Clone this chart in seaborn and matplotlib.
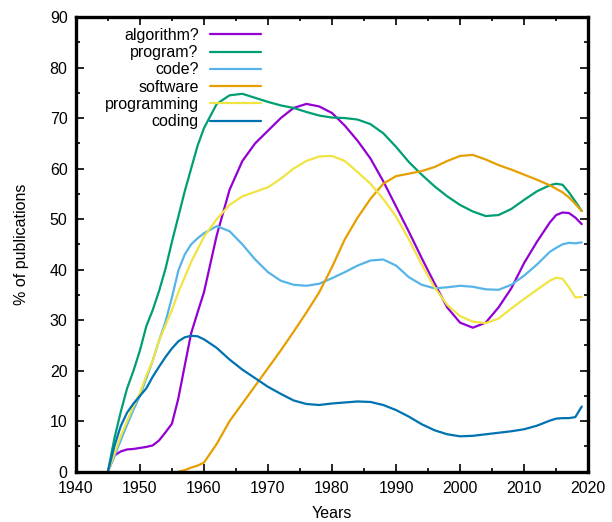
import numpy as np
import pandas as pd
import matplotlib
matplotlib.use("Agg")
import matplotlib.pyplot as plt
import seaborn as sns
from matplotlib.ticker import MultipleLocator

# years
years = ([1945, 1946, 1947, 1948, 1949, 1950, 1951, 1952, 1953, 1954, 1955,
          1956, 1957, 1958, 1959, 1960]
         + list(range(1962, 2015, 2))
         + [2015, 2016, 2017, 2018, 2019])

algorithm = [0, 3.2, 4.0, 4.4, 4.5, 4.7, 4.9, 5.2, 6.2, 7.8, 9.5, 14.5, 21, 27.4, 31.5, 35.5,
             46.8, 55.8, 61.5, 65, 67.5, 70, 72, 72.8, 72.3, 71, 68.5, 65.5, 62, 57.5, 52.5,
             47.5, 42.3, 37.3, 32.5, 29.5, 28.5, 29.5, 32.5, 36.3, 41.3, 45.5, 49.3,
             50.8, 51.3, 51.2, 50.3, 49]
program = [0, 6.5, 11.8, 16.5, 20, 24, 28.8, 32, 35.8, 40.2, 45.5, 50.5, 55.5, 60, 64.5, 68,
           72.8, 74.5, 74.8, 74, 73.2, 72.5, 72, 71.2, 70.5, 70.1, 70, 69.7, 68.8, 67, 64.3,
           61.3, 58.8, 56.5, 54.5, 52.8, 51.5, 50.6, 50.8, 52, 53.8, 55.5, 56.7,
           57, 56.8, 55.3, 53.5, 51.6]
code = [0, 3, 6.2, 9.3, 12.3, 15, 18.5, 22, 26, 29.7, 34.5, 39.8, 43, 45, 46.2, 47.2,
        48.6, 47.6, 45, 42, 39.5, 37.8, 37, 36.8, 37.2, 38.3, 39.5, 40.8, 41.8, 42, 40.8,
        38.5, 37, 36.3, 36.5, 36.8, 36.6, 36.1, 36.0, 37, 38.8, 41, 43.5,
        44.3, 45, 45.3, 45.2, 45.4]
software = [None] * 11 + [0, 0.3, 0.8, 1.2, 1.8,
            5.5, 10, 13.5, 17, 20.5, 24, 27.7, 31.5, 35.5, 40.5, 46, 50.3, 54, 57, 58.5,
            59, 59.5, 60.3, 61.5, 62.5, 62.7, 61.8, 60.7, 59.8, 58.8, 57.8, 56.7,
            56, 55.3, 54.3, 53, 51.6]
programming = [0, 3.5, 7, 10, 13, 15.5, 19, 22, 26, 29, 32, 35.5, 38.5, 41.5, 44, 46.5,
               50, 52.8, 54.5, 55.4, 56.3, 58, 60, 61.5, 62.4, 62.5, 61.5, 59.3, 57, 54, 50.5,
               46, 41, 36.5, 33, 30.8, 29.7, 29.4, 30.3, 32.3, 34.2, 36, 37.8,
               38.4, 38.2, 36.5, 34.5, 34.6]
coding = [0, 5, 9, 11.7, 13.5, 15, 16.5, 18.8, 20.8, 22.7, 24.4, 25.8, 26.6, 26.9, 26.8, 26.2,
          24.5, 22.2, 20.2, 18.5, 16.8, 15.4, 14.1, 13.4, 13.2, 13.5, 13.7, 13.9, 13.8, 13.2, 12.2,
          10.9, 9.4, 8.2, 7.4, 7.0, 7.1, 7.4, 7.7, 8.0, 8.4, 9.1, 10.1,
          10.5, 10.6, 10.6, 10.8, 12.9]

labels = ["algorithm?", "program?", "code?", "software", "programming", "coding"]
series = [algorithm, program, code, software, programming, coding]
colors = ["#9400d3", "#009e73", "#56b4e9", "#e69f00", "#f0e442", "#0072b2"]

rows = []
for lab, vals in zip(labels, series):
    for y, v in zip(years, vals):
        if v is not None:
            rows.append({"year": y, "pct": v, "term": lab})
df = pd.DataFrame(rows)

sns.set_style("ticks")
plt.rcParams["font.family"] = ["Liberation Sans", "DejaVu Sans"]
plt.rcParams["text.color"] = "black"
plt.rcParams["axes.labelcolor"] = "black"
FS = 11.5

fig = plt.figure(figsize=(6.12, 5.22), dpi=100)
ax = fig.add_axes([0.124, 0.0964, 0.837, 0.871])

sns.lineplot(data=df, x="year", y="pct", hue="term", hue_order=labels,
             palette=colors, linewidth=1.6, ax=ax)

ax.set_xlim(1940, 2020)
ax.set_ylim(0, 90)
ax.xaxis.set_major_locator(MultipleLocator(10))
ax.xaxis.set_minor_locator(MultipleLocator(5))
ax.yaxis.set_major_locator(MultipleLocator(10))
ax.yaxis.set_minor_locator(MultipleLocator(5))
ax.tick_params(which="both", direction="in", top=True, right=True,
               labelsize=FS, color="black", labelcolor="black", width=1.2)
ax.tick_params(which="major", length=6)
ax.tick_params(which="minor", length=3)
ax.tick_params(axis="x", which="major", pad=7)
ax.tick_params(axis="y", which="major", pad=6)
for s in ax.spines.values():
    s.set_linewidth(2.4)
    s.set_color("black")

ax.set_xlabel("Years", fontsize=FS, labelpad=7)
ax.set_ylabel("% of publications", fontsize=FS, labelpad=15)

leg = ax.legend(loc="upper right", bbox_to_anchor=(261 / 612, 1 - 28 / 522),
                bbox_transform=fig.transFigure, frameon=False, markerfirst=False,
                fontsize=FS, handlelength=3.2, handletextpad=0.7,
                labelspacing=0.14, borderpad=0, borderaxespad=0)
for t in leg.get_texts():
    t.set_color("black")

fig.savefig("out.png", dpi=100)
